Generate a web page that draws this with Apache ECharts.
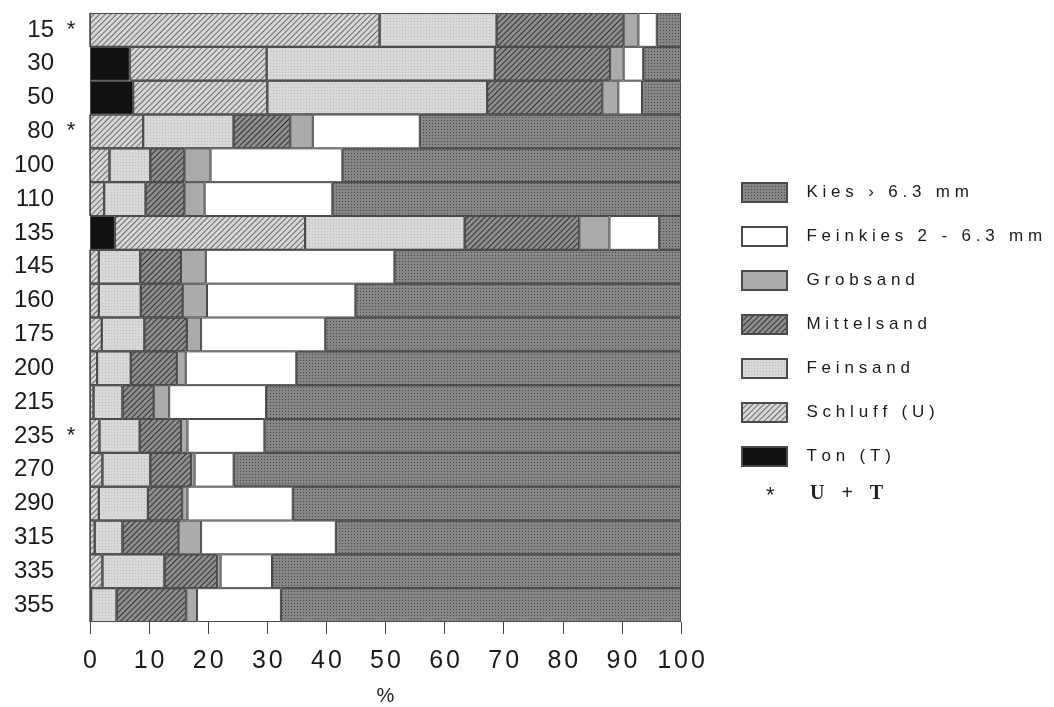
<!DOCTYPE html>
<html>
<head>
<meta charset="utf-8">
<script src="https://cdn.jsdelivr.net/npm/echarts@6/dist/echarts.min.js"></script>
<style>html,body{margin:0;padding:0;background:#fff;}#c{width:1054px;height:707px;}</style>
</head>
<body>
<div id="c"></div>
<script>
// Depth categories (top to bottom) and U+T markers
const depths = ['15','30','50','80','100','110','135','145','160','175','200','215','235','270','290','315','335','355'];
const stars  = [true,false,false,true,false,false,false,false,false,false,false,false,true,false,false,false,false,false];
// Percentages per fraction
const ton        = [0, 6.7, 7.3, 0, 0, 0, 4.2, 0, 0, 0, 0, 0, 0, 0, 0, 0, 0, 0];
const schluff    = [49.0, 23.2, 22.7, 9.0, 3.3, 2.4, 32.2, 1.5, 1.5, 2.0, 1.2, 0.6, 1.6, 2.1, 1.5, 0.8, 2.1, 0.2];
const feinsand   = [19.8, 38.6, 37.2, 15.3, 6.9, 7.0, 27.0, 7.0, 7.1, 7.2, 5.7, 4.9, 6.8, 8.1, 8.3, 4.7, 10.5, 4.3];
const mittelsand = [21.5, 19.5, 19.5, 9.6, 5.8, 6.6, 19.4, 6.9, 7.1, 7.2, 7.8, 5.3, 7.0, 6.9, 5.8, 9.5, 8.9, 11.8];
const grobsand   = [2.5, 2.3, 2.7, 3.8, 4.4, 3.4, 5.1, 4.2, 4.1, 2.4, 1.5, 2.6, 1.1, 0.6, 0.9, 3.8, 0.6, 1.8];
const feinkies   = [3.1, 3.3, 4.0, 18.1, 22.3, 21.6, 8.4, 31.9, 25.1, 21.0, 18.7, 16.4, 13.0, 6.6, 17.8, 22.8, 8.7, 14.2];
const kies       = [4.1, 6.4, 6.6, 44.2, 57.3, 59.0, 3.7, 48.5, 55.1, 60.2, 65.1, 70.2, 70.5, 75.7, 65.7, 58.4, 69.2, 67.7];
const xTicks = [0,10,20,30,40,50,60,70,80,90,100];
const legendNames = ['Kies \u203a 6.3 mm','Feinkies 2 - 6.3 mm','Grobsand','Mittelsand','Feinsand','Schluff (U)','Ton (T)'];

// letter-spaced rich text (same characters, each as its own segment)
const spaced = (s, cls) => s.split('').map(ch => '{' + cls + '|' + ch + '}').join('');

const hatch = (c) => ({symbol:'rect', symbolSize:1, color:c, dashArrayX:[1,0], dashArrayY:[1,3], rotation:-Math.PI/4});
const dots = (c) => ({symbol:'rect', symbolSize:1, color:c, dashArrayX:[1,2], dashArrayY:[1,2], rotation:0});

function mk(name, data, color, decal){
  const it = {color:color, borderColor:'#4a4a4a', borderWidth:1};
  if (decal) it.decal = decal;
  return {name:name, type:'bar', stack:'a', data:data, barCategoryGap:0, itemStyle:it, emphasis:{disabled:true}};
}

const chart = echarts.init(document.getElementById('c'));
chart.setOption({
  animation:false,
  backgroundColor:'#fff',
  grid:{left:90, right:373, top:13, bottom:85, containLabel:false, outerBoundsMode:'none'},
  xAxis:{type:'value', min:0, max:100, interval:10,
    name:'%', nameLocation:'middle', nameGap:64, nameTextStyle:{fontSize:20, color:'#222', fontFamily:'Liberation Sans'},
    axisLine:{show:false}, splitLine:{show:false},
    axisTick:{show:true, length:12, lineStyle:{color:'#444'}},
    axisLabel:{margin:27, formatter:(v)=>spaced(String(v),'d'),
      rich:{d:{fontSize:25, color:'#1a1a1a', fontFamily:'Liberation Sans', padding:[0,1.5]}}}},
  yAxis:{type:'category', data:depths, inverse:true,
    axisLine:{show:true, lineStyle:{color:'#444'}}, axisTick:{show:false},
    axisLabel:{margin:2, formatter:(v,i)=>'{n|'+v+'}{s|'+(stars[i]?'*':'')+'}',
      rich:{n:{fontSize:24, color:'#1a1a1a', fontFamily:'Liberation Sans'}, s:{fontSize:22, color:'#1a1a1a', width:34, align:'center', fontFamily:'Liberation Sans'}}}},
  legend:{orient:'vertical', left:736, top:177, itemWidth:45, itemHeight:19, itemGap:23, icon:'rect',
    data:legendNames, selectedMode:false,
    formatter:(name)=>spaced(name,'c'),
    textStyle:{padding:[0,0,0,12], rich:{c:{fontSize:17, color:'#1a1a1a', fontFamily:'Liberation Sans', padding:[0,2.4], lineHeight:20}}}},
  graphic:[
    {type:'text', left:766, top:485, style:{text:'*', fontSize:22, fill:'#222', fontFamily:'Liberation Sans'}},
    {type:'text', left:810, top:484, style:{text:spaced('U + T','u'),
      rich:{u:{fontSize:20, fontWeight:'bold', fill:'#222', fontFamily:'Liberation Serif', padding:[0,3]}}}}
  ],
  series:[
    mk('Ton (T)', ton, '#111', null),
    mk('Schluff (U)', schluff, '#d6d6d6', hatch('#6a6a6a')),
    mk('Feinsand', feinsand, '#d8d8d8', dots('#bcbcbc')),
    mk('Mittelsand', mittelsand, '#8e8e8e', hatch('#333333')),
    mk('Grobsand', grobsand, '#ababab', null),
    mk('Feinkies 2 - 6.3 mm', feinkies, '#ffffff', null),
    mk('Kies \u203a 6.3 mm', kies, '#868686', dots('#4a4a4a'))
  ]
});
</script>
</body>
</html>
